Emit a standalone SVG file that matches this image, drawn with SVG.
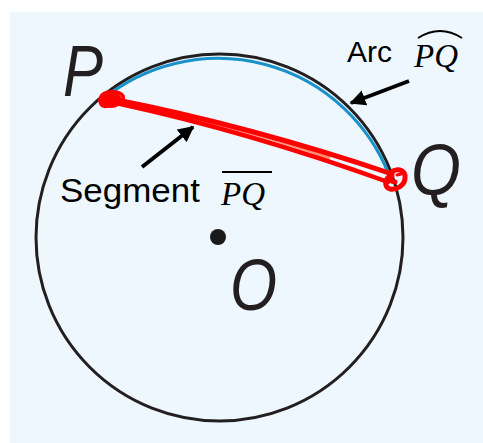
<svg xmlns="http://www.w3.org/2000/svg" width="483" height="443" viewBox="0 0 483 443">
<defs>
<style>
.lbl{font-family:"Liberation Sans",Arial,sans-serif;font-style:italic;fill:#231f20}
.txt{font-family:"Liberation Sans",Arial,sans-serif;fill:#000}
.math{font-family:"Liberation Serif","Times New Roman",serif;font-style:italic;fill:#000}
.red{fill:none;stroke:#ff0000;stroke-linecap:round;stroke-linejoin:round}
.arr{stroke:#000;stroke-width:4;fill:none}
</style>
<marker id="ah" viewBox="0 0 10 10" refX="9" refY="5" markerWidth="4" markerHeight="4" orient="auto" markerUnits="strokeWidth">
<path d="M0,0 L10,5 L0,10 z" fill="#000"/>
</marker>
</defs>
<rect x="10" y="12" width="473" height="431" fill="#edf7fd"/>
<g id="circle">
<circle cx="219.5" cy="237.5" r="183.5" fill="none" stroke="#231f20" stroke-width="3"/>
<path d="M103,99 A183.5,183.5 0 0 1 389,175" fill="none" stroke="#1a92c9" stroke-width="3"/>
</g>
<g id="center">
<circle cx="218" cy="237" r="8" fill="#1a1a1a"/>
<text class="lbl" x="230" y="310" font-size="72" textLength="47" lengthAdjust="spacingAndGlyphs">O</text>
</g>
<g id="P">
<text class="lbl" x="63" y="96" font-size="72" textLength="40" lengthAdjust="spacingAndGlyphs">P</text>
</g>
<g id="Q">
<text class="lbl" x="411" y="195" font-size="72" textLength="50" lengthAdjust="spacingAndGlyphs">Q</text>
</g>
<g id="segment">
<path d="M118,101 Q250,129 330,158" fill="none" stroke="#ff8a6a" stroke-width="3"/>
<path class="red" stroke-width="5" d="M112,99 Q250,126 392,174"/>
<path class="red" stroke-width="4.5" d="M116,103 Q250,132 388,182"/>
<ellipse cx="111" cy="100" rx="11" ry="8" fill="#ff0000"/>
<path class="red" stroke-width="3.5" d="M108,106 C100,108 98,100 102,95 C107,90 120,91 123,96 C125,102 116,106 110,104"/>
<path class="red" stroke-width="5" d="M392,176 C384,178 384,187 390,189 C397,190 405,185 405,178 C406,171 399,168 393,171 C387,174 388,181 395,182"/>
<path class="red" stroke-width="3" d="M397,175 L401,174"/>
</g>
<g id="labels">
<text class="txt" x="347" y="62" font-size="30">Arc</text>
<text class="math" x="414" y="67" font-size="33">PQ</text>
<path d="M418,38 Q440,24 462,38" fill="none" stroke="#000" stroke-width="1.8"/>
<text class="txt" x="60" y="202" font-size="33" textLength="140" lengthAdjust="spacingAndGlyphs">Segment</text>
<text class="math" x="221" y="205" font-size="33">PQ</text>
<line x1="222" y1="172" x2="272" y2="172" stroke="#000" stroke-width="1.8"/>
</g>
<g id="connectors">
<line class="arr" x1="409" y1="81" x2="351" y2="103" marker-end="url(#ah)"/>
<line class="arr" x1="142" y1="167" x2="193" y2="127" marker-end="url(#ah)"/>
</g>
</svg>
